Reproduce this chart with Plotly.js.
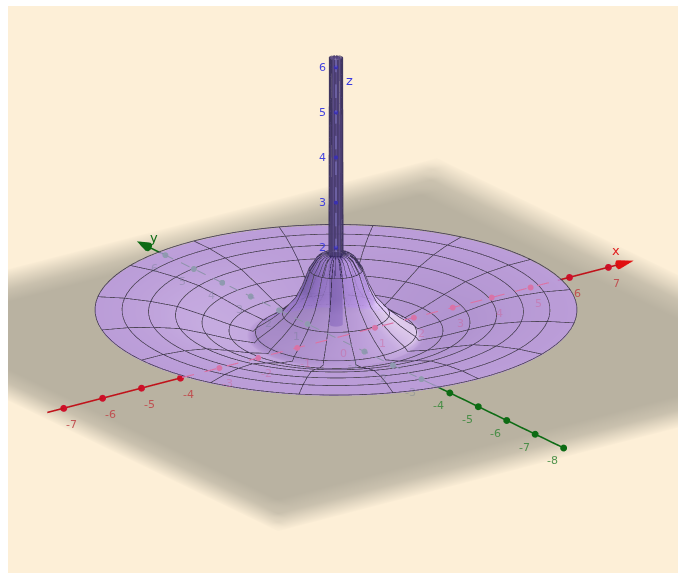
<!DOCTYPE html>
<html><head><meta charset="utf-8">
<script src="https://cdn.plot.ly/plotly-3.0.1.min.js"></script>
<style>html,body{margin:0;padding:0;background:#fff;width:678px;height:573px;overflow:hidden}
#plot{position:absolute;left:8px;top:6px;width:670px;height:567px}</style></head>
<body><div id="plot"></div>
<script>
// Profile of the surface of revolution
const radii   = [0, 0.14, 0.15, 0.3, 0.4, 0.48, 0.56, 0.7, 0.85, 1.11, 1.35, 1.55, 1.67, 1.74, 1.85, 2.22, 2.78, 3.33, 3.89, 4.44, 5];
const heights = [6.2, 6.2, 1.85, 1.82, 1.75, 1.62, 1.5, 1.12, 0.82, 0.52, 0.32, 0.18, 0.1, 0.02, 0.05, 0.14, 0.32, 0.48, 0.56, 0.6, 0.6];
const ringRadii = [0.56, 1.11, 1.67, 2.22, 2.78, 3.33, 3.89, 4.44, 5];
const sectorCount = 16;
const stemLineCount = 28;
const meshAngles = 96;
// Inner part of the stem, seen through the flare
const innerStemRadius = 0.14;
const innerStemHeights = [0.3, 1.85];
// Ground plane
const planeX = [-7.51, -7.2, -6.9, -6.4, 6.5, 7.2, 7.6, 8.06];
const planeXFade = [0.04, 0.4, 0.75, 1, 1, 0.75, 0.4, 0.04];
const planeY = [-8.23, -7.8, -7.4, -6.7, 5.9, 6.5, 7.0, 7.47];
const planeYFade = [0.04, 0.4, 0.75, 1, 1, 0.75, 0.4, 0.04];
// Axes
const xTicksOut = [-7,-6,-5,-4,6,7];
const xTicksIn = [-3,-2,-1,1,2,3,4,5];
const yTicksOut = [-8,-7,-6,-5,-4];
const yTicksIn = [-3,-2,-1,1,2,3,4,5,6];
const zTicks = [2,3,4,5,6];
const xEnds = [-7.42, 7.25];
const yEnds = [-8, 6.6];
const zEnds = [0, 6.2];
const xHidden = [-3.95, 5.7];
const yHidden = [-3.4, 6];
const dashOn = 0.3, dashOff = 0.27;

const cream = '#fdefd7';
const tau = 2*Math.PI;
const lightDir = [0.62,-0.42,0.66];
const viewDir = [-0.552,-0.755,0.354];
const forward = 2.2;   // hidden parts are moved toward the camera, which keeps their place in the picture
const traces = [];

// plane
traces.push({type:'surface', showscale:false, hoverinfo:'skip',
  x: planeX, y: planeY,
  z: planeY.map(()=>planeX.map(()=>-0.1)),
  surfacecolor: planeY.map((_,j)=>planeX.map((_,i)=>Math.min(planeXFade[i],planeYFade[j]))),
  cmin:0,cmax:1, colorscale:[[0,cream],[1,'#b9b2a1']],
  lighting:{ambient:1,diffuse:0,specular:0,fresnel:0}
});

// inner stem (opaque, under the flare)
const angs = Array.from({length:meshAngles+1},(_,i)=>i/meshAngles*tau);
traces.push({type:'surface', showscale:false, hoverinfo:'skip',
  x: innerStemHeights.map(()=>angs.map(a=>innerStemRadius*Math.cos(a))),
  y: innerStemHeights.map(()=>angs.map(a=>innerStemRadius*Math.sin(a))),
  z: innerStemHeights.map(h=>angs.map(()=>h)),
  surfacecolor: innerStemHeights.map(()=>angs.map(()=>0)),
  cmin:0,cmax:1,colorscale:[[0,'#2a1a60'],[1,'#2a1a60']],
  lighting:{ambient:1,diffuse:0,specular:0,fresnel:0}
});

// surface, shaded from the slope of the profile
function slopeAt(i){
  const a=Math.max(i-1,0), b=Math.min(i+1,radii.length-1);
  return (heights[b]-heights[a])/(radii[b]-radii[a]);
}
const shade = radii.map((r,i)=>angs.map(a=>{
  if(r<0.3) return -1;
  const s=slopeAt(i), n=Math.sqrt(1+s*s);
  const v=(-s*Math.cos(a)*lightDir[0]-s*Math.sin(a)*lightDir[1]+lightDir[2])/n;
  return r<0.85 ? v-0.3 : v;
}));
traces.push({type:'surface', showscale:false, hoverinfo:'skip', opacity:0.82,
  x: radii.map(r=>angs.map(a=>r*Math.cos(a))),
  y: radii.map(r=>angs.map(a=>r*Math.sin(a))),
  z: radii.map((_,i)=>angs.map(()=>heights[i])),
  surfacecolor: shade,
  cmin:-1,cmax:1,
  colorscale:[[0,'#5a4a88'],[0.25,'#8a6cbc'],[0.83,'#bb98e4'],[0.93,'#c9aaee'],[1,'#ecd6ff']],
  lighting:{ambient:1,diffuse:0,specular:0,fresnel:0}
});

// grid lines
const gridColor = '#3f3550', stemColor='#3f3560';
const lift = 0.02;
function gridTrace(xs,ys,zs,w,c){return {type:'scatter3d',mode:'lines',x:xs,y:ys,z:zs.map(v=>v+lift),hoverinfo:'skip',showlegend:false,line:{color:c||gridColor,width:w||1.6}};}
ringRadii.forEach(r=>{
  const h = heights[radii.indexOf(r)];
  traces.push(gridTrace(angs.map(a=>r*Math.cos(a)),angs.map(a=>r*Math.sin(a)),angs.map(()=>h)));
});
for(let k=0;k<sectorCount;k++){
  const a=k/sectorCount*tau, rr=radii.filter(r=>r>=0.3);
  traces.push(gridTrace(rr.map(r=>r*Math.cos(a)),rr.map(r=>r*Math.sin(a)),rr.map(r=>heights[radii.indexOf(r)])));
}
// dense lines on the stem and its flare
for(let k=0;k<stemLineCount;k++){
  const a=k/stemLineCount*tau, rr=radii.filter(r=>r>=0.14&&r<=0.56);
  traces.push(gridTrace(rr.map(r=>r*Math.cos(a)),rr.map(r=>r*Math.sin(a)),rr.map(r=>heights[radii.indexOf(r)]),1.3,stemColor));
}

// axes
const red='#c0121a', green='#0d6b14', blue='#2a2ad0';
function axisLine(pts,color,w){
  return {type:'scatter3d',mode:'lines',hoverinfo:'skip',showlegend:false,
    x:pts.map(p=>p==null?null:p[0]),y:pts.map(p=>p==null?null:p[1]),z:pts.map(p=>p==null?null:p[2]),
    line:{color:color,width:w||3.2}};
}
function tickDots(pts,color,size){
  return {type:'scatter3d',mode:'markers',hoverinfo:'skip',showlegend:false,
    x:pts.map(p=>p[0]),y:pts.map(p=>p[1]),z:pts.map(p=>p[2]),
    marker:{color:color,size:size||4,line:{width:0}}};
}
const front = p => [p[0]+forward*viewDir[0], p[1]+forward*viewDir[1], p[2]+forward*viewDir[2]];
function dashes(a,b,dir){
  const out=[], len=Math.abs(b-a);
  for(let s=0;s<len;s+=dashOn+dashOff){
    out.push(front(dir(a+s)), front(dir(a+Math.min(s+dashOn,len))), null);
  }
  return out;
}
const onX=v=>[v,0,0], onY=v=>[0,v,0], onZ=v=>[0,0,v];
traces.push(axisLine([onX(xEnds[0]),onX(xHidden[0])],red));
traces.push(axisLine(dashes(xHidden[0],xHidden[1],onX),'#dc70a8',2.4));
traces.push(axisLine([onX(xHidden[1]),onX(xEnds[1])],red));
traces.push(axisLine([onY(yEnds[0]),onY(yHidden[0])],green));
traces.push(axisLine(dashes(yHidden[0],yHidden[1],onY),'#8f92b0',2.2));
traces.push(axisLine([onY(yHidden[1]),onY(yEnds[1])],green));
traces.push(axisLine(dashes(zEnds[0]+1.9,zEnds[1],onZ),'#8f86d8',1.6));
traces.push(tickDots(xTicksOut.map(onX),'#cf0f2a'));
traces.push(tickDots(xTicksIn.map(onX).map(front),'#d873a8',3.5));
traces.push(tickDots(yTicksOut.map(onY),green));
traces.push(tickDots(yTicksIn.map(onY).map(front),'#8f9ab0',3.5));
traces.push(tickDots(zTicks.map(onZ).map(front),'#3a30b0',2.5));
// arrow heads
traces.push({type:'cone',x:[xEnds[1]],y:[0],z:[0],u:[1],v:[0],w:[0],anchor:'tail',sizemode:'absolute',sizeref:0.4,showscale:false,hoverinfo:'skip',colorscale:[[0,'#e01010'],[1,'#e01010']],lighting:{ambient:1,diffuse:0,specular:0}});
traces.push({type:'cone',x:[0],y:[yEnds[1]],z:[0],u:[0],v:[1],w:[0],anchor:'tail',sizemode:'absolute',sizeref:0.4,showscale:false,hoverinfo:'skip',colorscale:[[0,'#0d6b14'],[1,'#0d6b14']],lighting:{ambient:1,diffuse:0,specular:0}});

// labels
const ann=[];
function lab(x,y,z,t,color,dx,dy,op,size){ann.push({x,y,z,text:t,showarrow:false,xshift:dx,yshift:dy,opacity:op,font:{family:'DejaVu Sans',size:size||11,color}});}
xTicksOut.forEach(v=>lab(v,0,0,String(v),'#c0474a',8,-16,0.9));
xTicksIn.forEach(v=>lab(v,0,0,String(v),'#d05a90',8,-16,0.4));
lab(0,0,0,'0','#d05a90',8,-16,0.4);
yTicksOut.forEach(v=>lab(0,v,0,String(v),'#3f8a3f',-11,-13,0.9));
yTicksIn.forEach(v=>lab(0,v,0,String(v),'#6a7a8a',-11,-13,0.35));
zTicks.forEach(v=>lab(0,0,v,String(v),'#3a3ae0',-13,0,0.95));
lab(7.5,0,0,'x','#e02020',-12,12,1,13);
lab(0,6.6,0,'y','#0d6b14',6,9,1,13);
lab(0,0,5.75,'z','#3a3ae0',14,-2,1,13);

const k=2;
const eye={x:viewDir[0]*k,y:viewDir[1]*k,z:viewDir[2]*k};
const zoom=3.06;
const layout={
  width:670,height:567,margin:{l:0,r:0,t:0,b:0},paper_bgcolor:cream,showlegend:false,
  scene:{
    domain:{x:[0,1],y:[0,1]},
    bgcolor:cream,
    aspectmode:'manual',
    aspectratio:{x:zoom,y:zoom,z:zoom},
    camera:{eye,up:{x:0,y:0,z:1},center:{x:0,y:0,z:0},projection:{type:'orthographic'}},
    xaxis:{visible:false,range:[-8.82,9.18]},
    yaxis:{visible:false,range:[-9,9]},
    zaxis:{visible:false,range:[-7.97,10.03]},
    annotations:ann,
    dragmode:false
  }
};
Plotly.newPlot('plot',traces,layout,{displayModeBar:false,staticPlot:false});
</script></body></html>
